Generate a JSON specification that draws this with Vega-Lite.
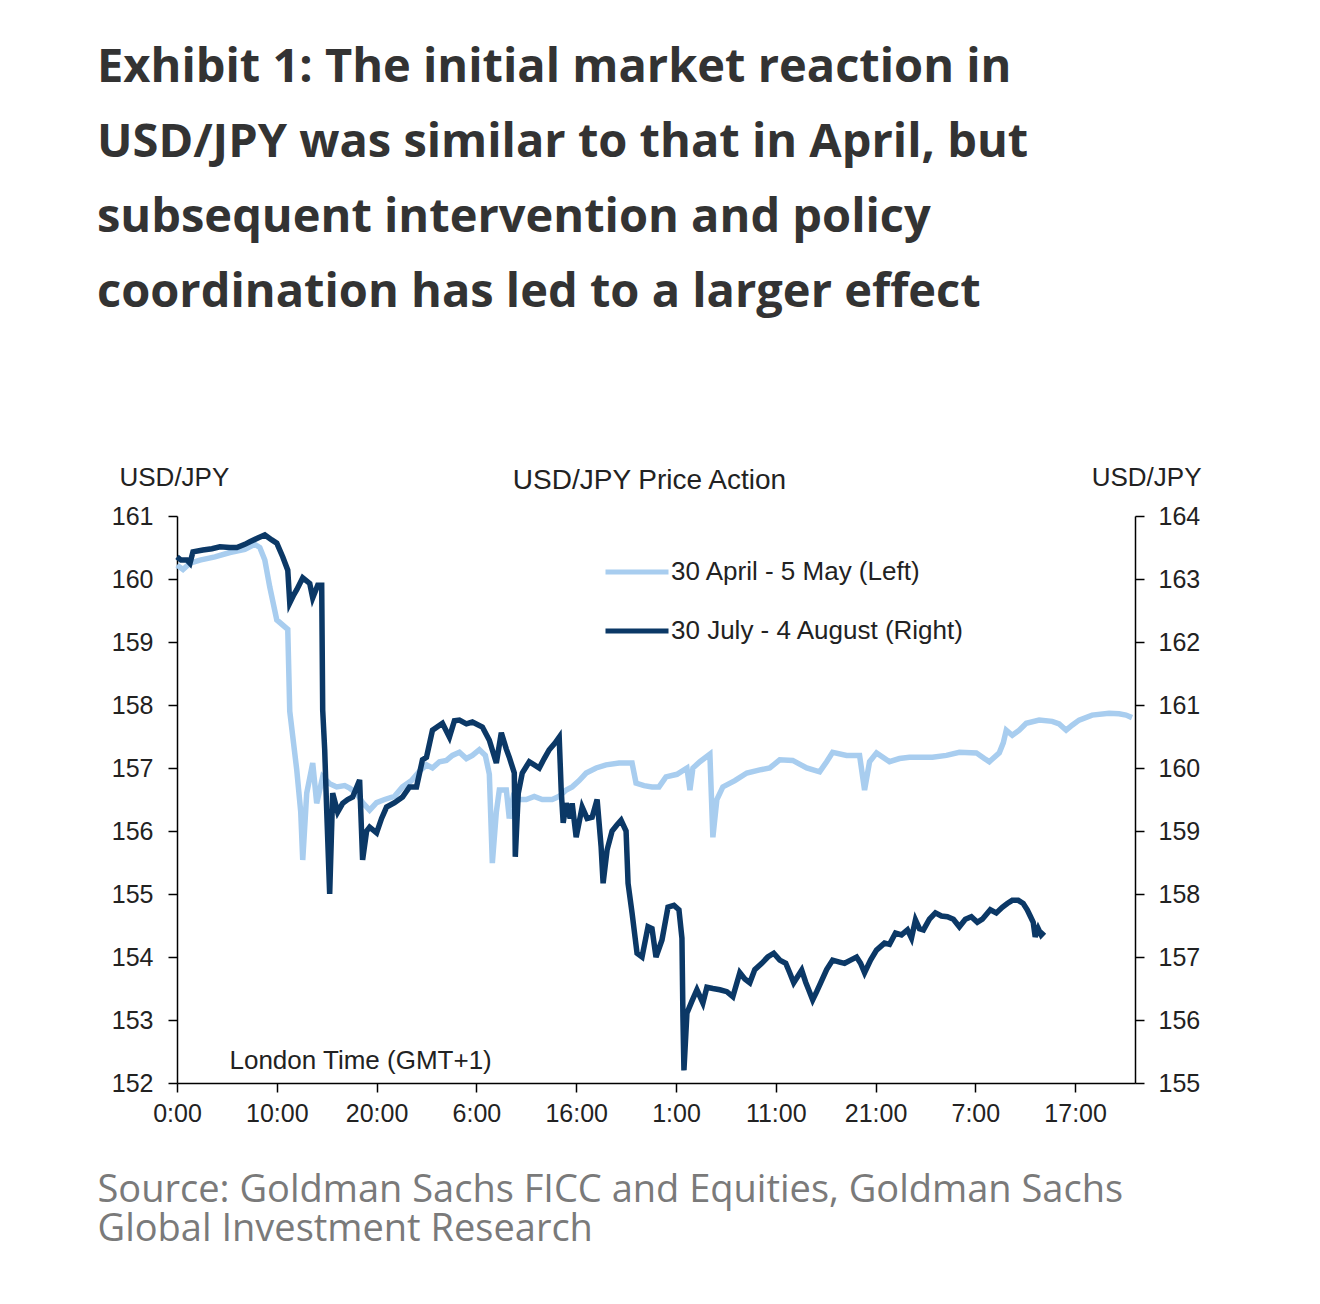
{
  "$schema": "https://vega.github.io/schema/vega-lite/v6.json",
  "width": 958,
  "height": 567,
  "autosize": {"type": "none"},
  "padding": {"left": 177, "top": 516, "right": 185, "bottom": 221},
  "background": "white",
  "title": {
    "text": [
      "Exhibit 1: The initial market reaction in",
      "USD/JPY was similar to that in April, but",
      "subsequent intervention and policy",
      "coordination has led to a larger effect"
    ],
    "anchor": "start",
    "frame": "group",
    "dx": -80,
    "offset": 147,
    "font": "Open Sans",
    "fontSize": 47,
    "fontWeight": "bold",
    "color": "#333333",
    "lineHeight": 75
  },
  "config": {
    "view": {"stroke": null},
    "axis": {
      "grid": false,
      "domainColor": "#000000",
      "domainWidth": 1.5,
      "tickColor": "#000000",
      "tickWidth": 1.5,
      "tickSize": 9,
      "labelFont": "Liberation Sans",
      "labelFontSize": 25,
      "labelColor": "#222222",
      "titleFont": "Liberation Sans",
      "titleFontSize": 26,
      "titleFontWeight": "normal",
      "titleColor": "#222222"
    }
  },
  "datasets": {
    "april": [
      {"h": 0, "p": 160.22}, {"h": 0.6, "p": 160.15}, {"h": 1.3, "p": 160.25}, {"h": 2.3, "p": 160.3},
      {"h": 3.8, "p": 160.35}, {"h": 5.3, "p": 160.42}, {"h": 6.8, "p": 160.47}, {"h": 7.8, "p": 160.55},
      {"h": 8.3, "p": 160.5}, {"h": 8.8, "p": 160.3}, {"h": 9.3, "p": 159.87}, {"h": 10, "p": 159.35},
      {"h": 11.1, "p": 159.2}, {"h": 11.3, "p": 157.9}, {"h": 12, "p": 156.97}, {"h": 12.4, "p": 156.3},
      {"h": 12.6, "p": 155.54}, {"h": 13, "p": 156.6}, {"h": 13.6, "p": 157.08}, {"h": 14, "p": 156.44},
      {"h": 14.6, "p": 156.86}, {"h": 15.3, "p": 156.75}, {"h": 16, "p": 156.7}, {"h": 16.8, "p": 156.72},
      {"h": 17.3, "p": 156.68}, {"h": 18, "p": 156.6}, {"h": 18.6, "p": 156.45}, {"h": 19.3, "p": 156.33},
      {"h": 20, "p": 156.45}, {"h": 20.8, "p": 156.5}, {"h": 21.8, "p": 156.55}, {"h": 22.6, "p": 156.7},
      {"h": 23.5, "p": 156.8}, {"h": 24.3, "p": 156.95}, {"h": 25, "p": 157.05}, {"h": 25.6, "p": 157},
      {"h": 26.3, "p": 157.1}, {"h": 27, "p": 157.12}, {"h": 27.6, "p": 157.2}, {"h": 28.3, "p": 157.25},
      {"h": 29, "p": 157.15}, {"h": 29.6, "p": 157.2}, {"h": 30.3, "p": 157.29}, {"h": 30.9, "p": 157.2},
      {"h": 31.3, "p": 156.9}, {"h": 31.6, "p": 155.49}, {"h": 32, "p": 156.3}, {"h": 32.3, "p": 156.65},
      {"h": 33, "p": 156.65}, {"h": 33.3, "p": 156.2}, {"h": 33.7, "p": 156.55}, {"h": 34.3, "p": 156.5},
      {"h": 35, "p": 156.5}, {"h": 35.8, "p": 156.55}, {"h": 36.6, "p": 156.5}, {"h": 37.6, "p": 156.5},
      {"h": 38.3, "p": 156.55}, {"h": 39, "p": 156.65}, {"h": 39.6, "p": 156.7}, {"h": 40.3, "p": 156.8},
      {"h": 41, "p": 156.92}, {"h": 42, "p": 157}, {"h": 43, "p": 157.05}, {"h": 44.3, "p": 157.08},
      {"h": 45.6, "p": 157.08}, {"h": 46, "p": 156.76}, {"h": 46.8, "p": 156.72}, {"h": 47.6, "p": 156.7},
      {"h": 48.3, "p": 156.7}, {"h": 49, "p": 156.86}, {"h": 50.1, "p": 156.9}, {"h": 51.1, "p": 157},
      {"h": 51.4, "p": 156.65}, {"h": 51.7, "p": 157}, {"h": 52.4, "p": 157.1}, {"h": 53.4, "p": 157.22},
      {"h": 53.7, "p": 155.9}, {"h": 54.1, "p": 156.5}, {"h": 54.7, "p": 156.7}, {"h": 55.9, "p": 156.8},
      {"h": 57.1, "p": 156.92}, {"h": 58.4, "p": 156.97}, {"h": 59.4, "p": 157}, {"h": 60.4, "p": 157.13},
      {"h": 61.7, "p": 157.12}, {"h": 63.1, "p": 157}, {"h": 64.4, "p": 156.94}, {"h": 65.1, "p": 157.1},
      {"h": 65.7, "p": 157.25}, {"h": 67.1, "p": 157.2}, {"h": 68.4, "p": 157.2}, {"h": 68.9, "p": 156.65},
      {"h": 69.4, "p": 157.1}, {"h": 70.1, "p": 157.24}, {"h": 71.4, "p": 157.1}, {"h": 72.4, "p": 157.15},
      {"h": 73.4, "p": 157.17}, {"h": 75.7, "p": 157.17}, {"h": 77.1, "p": 157.2}, {"h": 78.4, "p": 157.25},
      {"h": 80.1, "p": 157.24}, {"h": 80.9, "p": 157.15}, {"h": 81.4, "p": 157.1}, {"h": 82.4, "p": 157.24},
      {"h": 82.8, "p": 157.4}, {"h": 83.1, "p": 157.6}, {"h": 83.7, "p": 157.52}, {"h": 84.4, "p": 157.6},
      {"h": 85.1, "p": 157.71}, {"h": 86.4, "p": 157.76}, {"h": 87.7, "p": 157.74}, {"h": 88.4, "p": 157.7},
      {"h": 89.1, "p": 157.6}, {"h": 89.7, "p": 157.68}, {"h": 90.4, "p": 157.76}, {"h": 91.7, "p": 157.84},
      {"h": 93.4, "p": 157.87}, {"h": 94.4, "p": 157.86}, {"h": 95.1, "p": 157.84}, {"h": 95.7, "p": 157.8}
    ],
    "july": [
      {"h": 0, "p": 163.35}, {"h": 0.4, "p": 163.3}, {"h": 1, "p": 163.3}, {"h": 1.3, "p": 163.25},
      {"h": 1.6, "p": 163.43}, {"h": 2.6, "p": 163.46}, {"h": 3.5, "p": 163.48}, {"h": 4.3, "p": 163.51},
      {"h": 5.3, "p": 163.5}, {"h": 6, "p": 163.5}, {"h": 6.8, "p": 163.55}, {"h": 7.3, "p": 163.59},
      {"h": 8.1, "p": 163.65}, {"h": 8.8, "p": 163.7}, {"h": 9.5, "p": 163.62}, {"h": 10, "p": 163.57},
      {"h": 10.6, "p": 163.35}, {"h": 11.1, "p": 163.14}, {"h": 11.3, "p": 162.62}, {"h": 11.7, "p": 162.75},
      {"h": 12, "p": 162.83}, {"h": 12.6, "p": 163.02}, {"h": 13.3, "p": 162.93}, {"h": 13.6, "p": 162.7},
      {"h": 14.1, "p": 162.9}, {"h": 14.5, "p": 162.9}, {"h": 14.6, "p": 160.92}, {"h": 14.8, "p": 160.29},
      {"h": 15, "p": 159.33}, {"h": 15.3, "p": 158}, {"h": 15.6, "p": 159.6}, {"h": 16.1, "p": 159.3},
      {"h": 16.6, "p": 159.44}, {"h": 17.1, "p": 159.5}, {"h": 17.6, "p": 159.54}, {"h": 18.3, "p": 159.81},
      {"h": 18.6, "p": 158.54}, {"h": 19, "p": 159}, {"h": 19.3, "p": 159.06}, {"h": 20, "p": 158.97},
      {"h": 20.5, "p": 159.2}, {"h": 21, "p": 159.38}, {"h": 21.8, "p": 159.45}, {"h": 22.6, "p": 159.54},
      {"h": 23.3, "p": 159.7}, {"h": 24, "p": 159.7}, {"h": 24.6, "p": 160.13}, {"h": 25, "p": 160.17},
      {"h": 25.6, "p": 160.6}, {"h": 26.6, "p": 160.71}, {"h": 27.3, "p": 160.49}, {"h": 27.8, "p": 160.75},
      {"h": 28.3, "p": 160.76}, {"h": 29, "p": 160.7}, {"h": 29.6, "p": 160.73}, {"h": 30.6, "p": 160.65},
      {"h": 31.3, "p": 160.44}, {"h": 32, "p": 160.08}, {"h": 32.5, "p": 160.56}, {"h": 33, "p": 160.3},
      {"h": 33.3, "p": 160.17}, {"h": 33.8, "p": 159.92}, {"h": 33.9, "p": 158.59}, {"h": 34.2, "p": 159.6},
      {"h": 34.6, "p": 159.92}, {"h": 35.3, "p": 160.1}, {"h": 36.3, "p": 160}, {"h": 36.8, "p": 160.15},
      {"h": 37.3, "p": 160.29}, {"h": 37.9, "p": 160.4}, {"h": 38.3, "p": 160.49}, {"h": 38.5, "p": 159.65},
      {"h": 38.7, "p": 159.13}, {"h": 39, "p": 159.44}, {"h": 39.4, "p": 159.2}, {"h": 39.6, "p": 159.44},
      {"h": 40, "p": 158.9}, {"h": 40.6, "p": 159.38}, {"h": 41.1, "p": 159.2}, {"h": 41.6, "p": 159.22},
      {"h": 42.1, "p": 159.5}, {"h": 42.5, "p": 158.75}, {"h": 42.7, "p": 158.17}, {"h": 43.1, "p": 158.7},
      {"h": 43.6, "p": 159}, {"h": 44.1, "p": 159.1}, {"h": 44.5, "p": 159.17}, {"h": 45, "p": 159},
      {"h": 45.2, "p": 158.17}, {"h": 45.6, "p": 157.7}, {"h": 46.1, "p": 157.06}, {"h": 46.6, "p": 157},
      {"h": 47.2, "p": 157.48}, {"h": 47.6, "p": 157.45}, {"h": 48, "p": 157}, {"h": 48.6, "p": 157.27},
      {"h": 49.2, "p": 157.79}, {"h": 49.8, "p": 157.82}, {"h": 50.3, "p": 157.75}, {"h": 50.6, "p": 157.3},
      {"h": 50.7, "p": 156.05}, {"h": 50.8, "p": 155.2}, {"h": 51.1, "p": 156.11}, {"h": 51.6, "p": 156.3},
      {"h": 52.1, "p": 156.48}, {"h": 52.7, "p": 156.27}, {"h": 53.1, "p": 156.52}, {"h": 53.7, "p": 156.5},
      {"h": 54.4, "p": 156.48}, {"h": 55.1, "p": 156.45}, {"h": 55.7, "p": 156.37}, {"h": 56.4, "p": 156.75},
      {"h": 56.9, "p": 156.65}, {"h": 57.4, "p": 156.59}, {"h": 57.9, "p": 156.8}, {"h": 58.6, "p": 156.9},
      {"h": 59.2, "p": 157}, {"h": 59.8, "p": 157.06}, {"h": 60.4, "p": 156.95}, {"h": 61, "p": 156.9},
      {"h": 61.4, "p": 156.75}, {"h": 61.8, "p": 156.59}, {"h": 62.6, "p": 156.79}, {"h": 63, "p": 156.6},
      {"h": 63.3, "p": 156.48}, {"h": 63.7, "p": 156.32}, {"h": 64.1, "p": 156.45}, {"h": 64.5, "p": 156.59},
      {"h": 65.1, "p": 156.8}, {"h": 65.7, "p": 156.95}, {"h": 66.4, "p": 156.92}, {"h": 66.9, "p": 156.9},
      {"h": 67.5, "p": 156.95}, {"h": 68.1, "p": 157}, {"h": 68.5, "p": 156.9}, {"h": 68.9, "p": 156.75},
      {"h": 69.5, "p": 156.95}, {"h": 70.1, "p": 157.11}, {"h": 70.9, "p": 157.22}, {"h": 71.4, "p": 157.2},
      {"h": 72, "p": 157.38}, {"h": 72.6, "p": 157.35}, {"h": 73.2, "p": 157.43}, {"h": 73.6, "p": 157.3},
      {"h": 74, "p": 157.59}, {"h": 74.4, "p": 157.45}, {"h": 74.8, "p": 157.43}, {"h": 75.4, "p": 157.6},
      {"h": 76, "p": 157.7}, {"h": 76.6, "p": 157.65}, {"h": 77.2, "p": 157.64}, {"h": 77.8, "p": 157.6},
      {"h": 78.4, "p": 157.48}, {"h": 79, "p": 157.6}, {"h": 79.6, "p": 157.64}, {"h": 80.2, "p": 157.55},
      {"h": 80.7, "p": 157.6}, {"h": 81.5, "p": 157.75}, {"h": 82.1, "p": 157.7}, {"h": 82.7, "p": 157.79},
      {"h": 83.2, "p": 157.85}, {"h": 83.7, "p": 157.9}, {"h": 84.3, "p": 157.9}, {"h": 84.8, "p": 157.85},
      {"h": 85.2, "p": 157.75}, {"h": 85.5, "p": 157.65}, {"h": 85.8, "p": 157.55}, {"h": 86, "p": 157.32},
      {"h": 86.3, "p": 157.45}, {"h": 86.6, "p": 157.35}, {"h": 86.9, "p": 157.4}
    ],
    "notes": [
      {"label": "USD/JPY Price Action", "h": 47.35, "p": 161.56},
      {"label": "London Time (GMT+1)", "h": 18.4, "p": 152.35}
    ]
  },
  "layer": [
    {
      "data": {"name": "april"},
      "mark": {"type": "line", "strokeWidth": 5.5, "interpolate": "linear"},
      "encoding": {
        "x": {
          "field": "h",
          "type": "quantitative",
          "scale": {"domain": [0, 96], "nice": false, "zero": false},
          "axis": {
            "values": [0, 10, 20, 30, 40, 50, 60, 70, 80, 90],
            "labelExpr": "['0:00','10:00','20:00','6:00','16:00','1:00','11:00','21:00','7:00','17:00'][round(datum.value / 10)]",
            "labelFlush": false,
            "labelPadding": 9,
            "title": ["Source: Goldman Sachs FICC and Equities, Goldman Sachs", "Global Investment Research"],
            "titleFont": "Open Sans",
            "titleFontSize": 38,
            "titleColor": "#7a7a7a",
            "titleAnchor": "start",
            "titleAlign": "left",
            "titleBaseline": "alphabetic",
            "titleX": -80,
            "titleY": 118,
            "titleLineHeight": 39
          }
        },
        "y": {
          "field": "p",
          "type": "quantitative",
          "scale": {"domain": [152, 161], "nice": false, "zero": false},
          "axis": {
            "orient": "left",
            "values": [152, 153, 154, 155, 156, 157, 158, 159, 160, 161],
            "labelPadding": 15,
            "title": "USD/JPY",
            "titleAngle": 0,
            "titleAlign": "left",
            "titleBaseline": "middle",
            "titleX": -58,
            "titleY": -39
          }
        },
        "color": {
          "datum": "30 April - 5 May (Left)",
          "type": "nominal",
          "scale": {
            "domain": ["30 April - 5 May (Left)", "30 July - 4 August (Right)"],
            "range": ["#a8cdef", "#0b3866"]
          },
          "legend": {
            "orient": "none",
            "legendX": 426,
            "legendY": 22,
            "title": null,
            "padding": 0,
            "symbolType": "stroke",
            "symbolSize": 3969,
            "symbolStrokeWidth": 5,
            "rowPadding": 12,
            "labelOffset": 0,
            "labelLimit": 500,
            "labelFont": "Liberation Sans",
            "labelFontSize": 26,
            "labelColor": "#222222"
          }
        }
      }
    },
    {
      "data": {"name": "july"},
      "mark": {"type": "line", "strokeWidth": 5.5, "interpolate": "linear"},
      "encoding": {
        "x": {"field": "h", "type": "quantitative", "scale": {"domain": [0, 96], "nice": false, "zero": false}},
        "y": {
          "field": "p",
          "type": "quantitative",
          "scale": {"domain": [155, 164], "nice": false, "zero": false},
          "axis": {
            "orient": "right",
            "values": [155, 156, 157, 158, 159, 160, 161, 162, 163, 164],
            "labelPadding": 14,
            "title": "USD/JPY",
            "titleAngle": 0,
            "titleAlign": "right",
            "titleBaseline": "middle",
            "titleX": 66,
            "titleY": -39
          }
        },
        "color": {"datum": "30 July - 4 August (Right)", "type": "nominal"}
      }
    },
    {
      "data": {"name": "notes"},
      "transform": [{"filter": "datum.label === 'USD/JPY Price Action'"}],
      "mark": {"type": "text", "font": "Liberation Sans", "fontSize": 28, "color": "#222222", "align": "center", "baseline": "middle"},
      "encoding": {
        "x": {"field": "h", "type": "quantitative", "scale": {"domain": [0, 96], "nice": false, "zero": false}},
        "y": {"field": "p", "type": "quantitative", "scale": {"domain": [152, 161], "nice": false, "zero": false}, "axis": null},
        "text": {"field": "label"}
      }
    },
    {
      "data": {"name": "notes"},
      "transform": [{"filter": "datum.label !== 'USD/JPY Price Action'"}],
      "mark": {"type": "text", "font": "Liberation Sans", "fontSize": 26, "color": "#222222", "align": "center", "baseline": "middle"},
      "encoding": {
        "x": {"field": "h", "type": "quantitative", "scale": {"domain": [0, 96], "nice": false, "zero": false}},
        "y": {"field": "p", "type": "quantitative", "scale": {"domain": [152, 161], "nice": false, "zero": false}, "axis": null},
        "text": {"field": "label"}
      }
    }
  ],
  "resolve": {"scale": {"y": "independent", "color": "shared"}}
}
